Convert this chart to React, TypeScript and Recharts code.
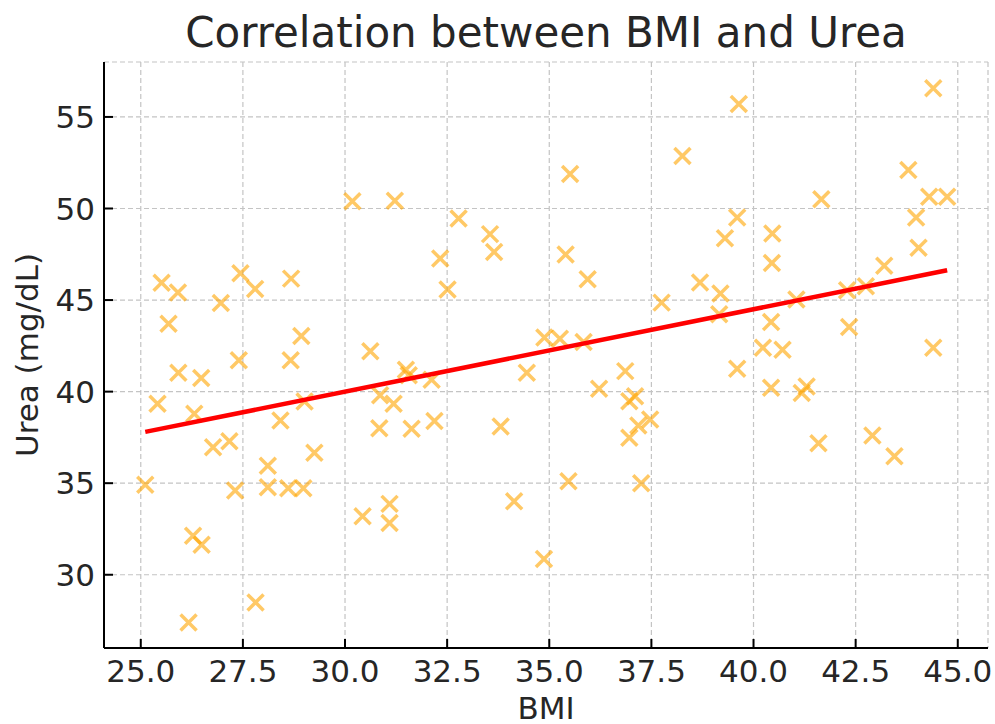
import { ScatterChart, Scatter, XAxis, YAxis, CartesianGrid, Label } from "recharts";

// values
const bmi = [
  25.11, 25.41, 25.51, 25.68, 25.91, 25.92, 26.17, 26.28, 26.31, 26.48,
  26.49, 26.77, 26.96, 27.17, 27.31, 27.4, 27.44, 27.8, 27.81, 28.11,
  28.11, 28.42, 28.61, 28.67, 28.68, 28.93, 28.98, 29.01, 29.25, 30.18,
  30.43, 30.62, 30.84, 30.86, 31.19, 31.09, 31.09, 31.22, 31.49, 31.56,
  31.63, 32.12, 32.19, 32.33, 32.51, 32.78, 33.55, 33.65, 33.81, 34.14,
  34.45, 34.87, 34.88, 35.26, 35.4, 35.47, 35.51, 35.84, 35.94, 36.22,
  36.86, 36.96, 37.1, 36.96, 37.18, 37.25, 37.47, 37.75, 38.26, 38.69,
  39.16, 39.19, 39.3, 39.6, 39.6, 39.64, 40.23, 40.43, 40.43, 40.45,
  40.46, 40.71, 41.05, 41.18, 41.3, 41.59, 41.66, 42.29, 42.34, 42.75,
  42.91, 43.2, 43.45, 43.79, 43.98, 44.04, 44.3, 44.4, 44.4, 44.74,
];
const urea = [
  34.92, 39.34, 45.94, 43.71, 45.41, 41.03, 27.39, 32.13, 38.79, 40.74,
  31.64, 36.96, 44.84, 37.29, 34.6, 41.71, 46.47, 45.61, 28.49, 35.95,
  34.78, 38.42, 34.72, 41.71, 46.17, 43.04, 34.72, 39.46, 36.66, 50.39,
  33.19, 42.2, 38.0, 39.8, 39.34, 33.87, 32.83, 50.42, 41.2, 40.9,
  37.97, 40.65, 38.39, 47.27, 45.58, 49.46, 48.6, 47.63, 38.1, 34.01,
  41.03, 30.86, 42.95, 42.89, 47.49, 35.1, 51.88, 42.71, 46.14, 40.16,
  41.12, 39.47, 39.75, 37.48, 38.15, 35.0, 38.48, 44.86, 52.87, 45.96,
  44.22, 45.36, 48.37, 49.51, 41.25, 55.71, 42.4, 43.8, 40.21, 47.03,
  48.64, 42.29, 45.03, 39.92, 40.28, 37.18, 50.51, 45.54, 43.53, 45.75,
  37.6, 46.87, 36.47, 52.1, 49.51, 47.86, 50.64, 56.57, 42.4, 50.64,
];
const fitBmi = [25.11, 44.74];
const fitUrea = [37.8, 46.63];
const bmiTicks = [25, 27.5, 30, 32.5, 35, 37.5, 40, 42.5, 45];
const ureaTicks = [30, 35, 40, 45, 50, 55];

const points = bmi.map((x, i) => ({ x, y: urea[i] }));
const fit = fitBmi.map((x, i) => ({ x, y: fitUrea[i] }));

const font = "'DejaVu Sans', sans-serif";
const ink = "#262626";

function Cross(props: any) {
  const { cx, cy } = props;
  const r = 8;
  return (
    <path
      d={`M${cx - r},${cy - r}L${cx + r},${cy + r}M${cx - r},${cy + r}L${cx + r},${cy - r}`}
      stroke="#ffa500"
      strokeOpacity={0.6}
      strokeWidth={3.5}
      fill="none"
    />
  );
}

export default function App() {
  const tickStyle = { fontSize: 31, fill: ink, fontFamily: font };
  return (
    <div style={{ position: "absolute", left: 0, top: 0, width: 995, height: 724, background: "#fff" }}>
      <div
        style={{
          position: "absolute",
          left: 104,
          top: 12,
          width: 884,
          textAlign: "center",
          fontFamily: font,
          fontSize: 42,
          lineHeight: "42px",
          color: ink,
        }}
      >
        Correlation between BMI and Urea
      </div>
      <ScatterChart width={995} height={724} margin={{ top: 62, right: 7, bottom: 0, left: 0 }}>
        <CartesianGrid stroke="#c4c4c4" strokeDasharray="5 3" strokeWidth={1.2} />
        <XAxis
          type="number"
          dataKey="x"
          domain={[24.1, 45.74]}
          allowDataOverflow
          ticks={bmiTicks}
          tickFormatter={(v: number) => v.toFixed(1)}
          height={76}
          tick={tickStyle}
          tickSize={-9}
          tickMargin={21}
          axisLine={{ stroke: "#000", strokeWidth: 2 }}
          tickLine={{ stroke: "#000", strokeWidth: 2 }}
        >
          <Label value="BMI" position="insideBottom" offset={5} style={{ fontSize: 31, fill: ink, fontFamily: font }} />
        </XAxis>
        <YAxis
          type="number"
          dataKey="y"
          domain={[26, 58]}
          allowDataOverflow
          ticks={ureaTicks}
          width={104}
          tick={tickStyle}
          tickSize={-9}
          tickMargin={18}
          axisLine={{ stroke: "#000", strokeWidth: 2 }}
          tickLine={{ stroke: "#000", strokeWidth: 2 }}
        >
          <Label
            content={() => (
              <text
                x={0}
                y={0}
                transform="translate(38,355) rotate(-90)"
                textAnchor="middle"
                fontSize={31}
                fill={ink}
                fontFamily={font}
              >
                Urea (mg/dL)
              </text>
            )}
          />
        </YAxis>
        <Scatter data={points} shape={<Cross />} isAnimationActive={false} />
        <Scatter
          data={fit}
          line={{ stroke: "#ff0000", strokeWidth: 4.5 }}
          shape={() => <g />}
          isAnimationActive={false}
        />
      </ScatterChart>
    </div>
  );
}
